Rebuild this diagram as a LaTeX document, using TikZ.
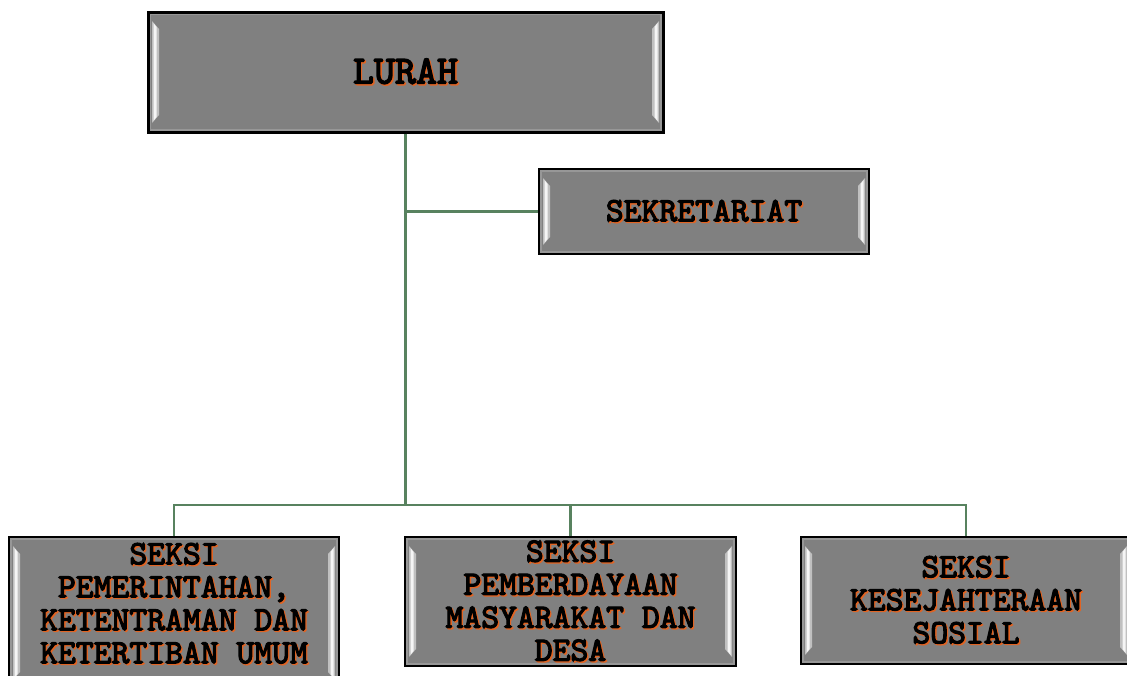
\documentclass[tikz,border=0pt]{standalone}
\usepackage{fontspec}
\newfontfamily\cour{lmmono10-regular.otf}[FakeBold=3.5]
\usetikzlibrary{calc}
\definecolor{lnk}{RGB}{88,130,95}
\definecolor{shd}{RGB}{225,100,35}
\definecolor{boxg}{RGB}{128,128,128}
\newcommand\sh[1]{\makebox[0pt][l]{\hspace{1.4pt}\raisebox{-1.4pt}{\textcolor{shd}{#1}}}#1}
\tikzset{
  bevel/.style={path picture={
    \coordinate (pNW) at (path picture bounding box.north west);
    \coordinate (pNE) at (path picture bounding box.north east);
    \coordinate (pSW) at (path picture bounding box.south west);
    \coordinate (pSE) at (path picture bounding box.south east);
    \fill[boxg!82!white] (pNW) rectangle (pSE);
    \fill[boxg] ($(pNW)+(3pt,-3pt)$) rectangle ($(pSE)+(-3pt,3pt)$);
    \fill[boxg!50!white]
      ($(pNW)+(4pt,-9pt)$) -- ($(pNW)+(11pt,-17pt)$) -- ($(pSW)+(11pt,17pt)$) -- ($(pSW)+(4pt,9pt)$) -- cycle;
    \fill[white!92!boxg]
      ($(pNW)+(5.5pt,-11pt)$) -- ($(pNW)+(8.5pt,-15pt)$) -- ($(pSW)+(8.5pt,15pt)$) -- ($(pSW)+(5.5pt,11pt)$) -- cycle;
    \fill[boxg!50!white]
      ($(pNE)+(-4pt,-9pt)$) -- ($(pNE)+(-11pt,-17pt)$) -- ($(pSE)+(-11pt,17pt)$) -- ($(pSE)+(-4pt,9pt)$) -- cycle;
    \fill[white!92!boxg]
      ($(pNE)+(-5.5pt,-11pt)$) -- ($(pNE)+(-8.5pt,-15pt)$) -- ($(pSE)+(-8.5pt,15pt)$) -- ($(pSE)+(-5.5pt,11pt)$) -- cycle;
  }},
  orgbox/.style={draw=black, fill=boxg, line width=1.3pt, inner sep=0pt, align=center,
    font=\cour\fontsize{34}{33}\selectfont, bevel},
  orgtext/.style={inner sep=0pt, align=center, font=\cour\fontsize{34}{33}\selectfont},
  link/.style={draw=lnk, line width=2.4pt},
}
\begin{document}
\begin{tikzpicture}[x=1pt,y=-1pt]
\useasboundingbox (0,0) rectangle (1127,675);
\fill[white] (0,0) rectangle (1127,675);

\node[orgbox, line width=3pt, minimum width=515pt, minimum height=120pt,
      font=\cour\fontsize{40}{38}\selectfont] (lurah) at (405.5,72) {\sh{LURAH}};
\node[orgbox, minimum width=330pt, minimum height=85pt] (sek) at (704,211.5) {\sh{SEKRETARIAT}};

\node[orgbox, minimum width=330pt, minimum height=152pt] (b1) at (174,613) {};
\node[orgtext] (b1t) at (174,604) {\sh{SEKSI}\\\sh{PEMERINTAHAN,}\\\sh{KETENTRAMAN DAN}\\\sh{KETERTIBAN UMUM}};
\node[orgbox, minimum width=331pt, minimum height=129pt] (b2) at (570.5,601.5)
  {\sh{SEKSI}\\\sh{PEMBERDAYAAN}\\\sh{MASYARAKAT DAN}\\\sh{DESA}};
\node[orgbox, minimum width=330pt, minimum height=127pt] (b3) at (966,600.5)
  {\sh{SEKSI}\\\sh{KESEJAHTERAAN}\\\sh{SOSIAL}};

\coordinate (bus) at (406,505);
\draw[link] (lurah.south) -- (lurah.south |- bus);
\draw[link] (lurah.south |- sek.west) -- (sek.west);
\draw[link] (b1.north) -- (b1.north |- bus) -- (b3.north |- bus) -- (b3.north);
\draw[link] (b2.north) -- (b2.north |- bus);
\end{tikzpicture}
\end{document}
